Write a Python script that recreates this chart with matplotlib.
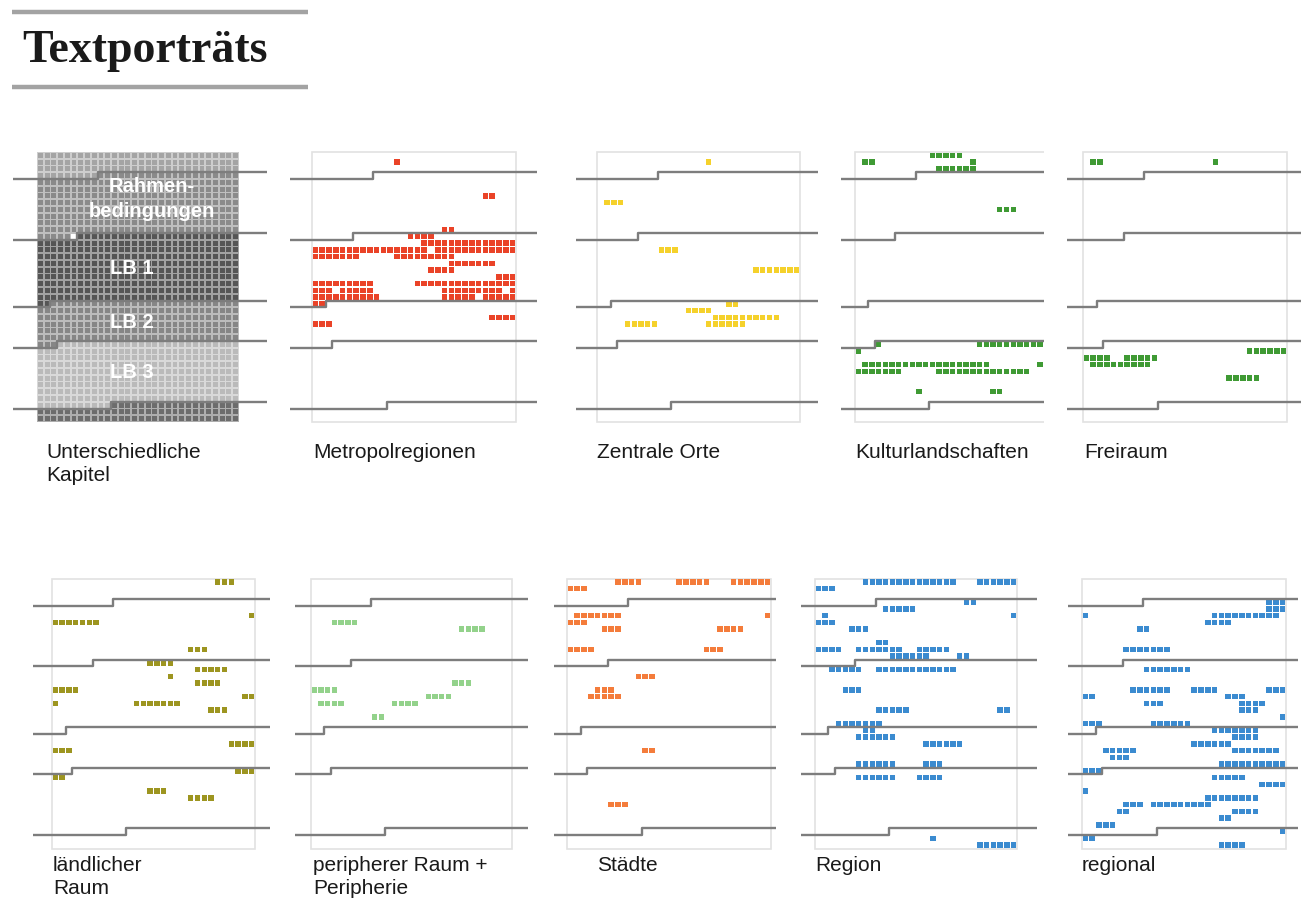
import numpy as np
import matplotlib.pyplot as plt
from matplotlib.patches import Rectangle
from matplotlib.collections import PatchCollection
from matplotlib.colors import to_rgb

plt.rcParams['font.family'] = ['Liberation Sans', 'DejaVu Sans']

# text grid: 30 columns x 40 rows, one square per text unit
N_COLS, N_ROWS = 30, 40

# chapter boundaries: (row, column where the new chapter starts)
boundaries = [(3, 9), (12, 6), (22, 2), (28, 3), (37, 11)]
chapter_colors = ['#a4a4a4', '#8a8a8a', '#555555', '#868686', '#bababa', '#6c6c6c']
chapter_names = ['Rahmen-\nbedingungen', 'LB 1', 'LB 2', 'LB 3']
empty_cells = [(12, 5)]

# hits per term: (row, first column, number of squares)
metropolregionen = [(1, 12, 1), (6, 25, 2), (11, 19, 2), (12, 14, 4), (13, 16, 14),
                    (14, 0, 17), (14, 18, 12), (15, 0, 7), (15, 12, 9), (16, 20, 7),
                    (17, 17, 4), (18, 27, 3), (19, 0, 9), (19, 15, 15), (20, 0, 3),
                    (20, 4, 5), (20, 19, 9), (20, 29, 1), (21, 0, 10), (21, 19, 5),
                    (21, 25, 5), (22, 0, 2), (24, 26, 4), (25, 0, 3)]
zentrale_orte = [(1, 16, 1), (7, 1, 3), (14, 9, 3), (17, 23, 7), (22, 19, 2),
                 (23, 13, 4), (24, 17, 10), (25, 4, 5), (25, 16, 6)]
kulturlandschaften = [(0, 11, 5), (1, 1, 2), (1, 17, 1), (2, 12, 6), (8, 21, 3),
                      (28, 3, 1), (28, 18, 12), (29, 0, 1), (31, 1, 19), (31, 27, 1),
                      (32, 0, 7), (32, 12, 14), (35, 9, 1), (35, 20, 2)]
freiraum = [(1, 1, 2), (1, 19, 1), (29, 24, 6), (30, 0, 4), (30, 6, 5),
            (31, 1, 9), (33, 21, 5)]
laendlicher_raum = [(0, 24, 3), (5, 29, 1), (6, 0, 7), (10, 20, 3), (12, 14, 4),
                    (13, 21, 5), (14, 17, 1), (15, 21, 4), (16, 0, 4), (17, 28, 2),
                    (18, 0, 1), (18, 12, 7), (19, 23, 3), (24, 26, 4), (25, 0, 3),
                    (28, 27, 3), (29, 0, 2), (31, 14, 3), (32, 20, 4)]
peripherie = [(6, 3, 4), (7, 22, 4), (15, 21, 3), (16, 0, 4), (17, 17, 4),
              (18, 1, 4), (18, 12, 4), (20, 9, 2)]
staedte = [(0, 7, 4), (0, 16, 5), (0, 24, 6), (1, 0, 3), (5, 1, 7), (5, 29, 1),
           (6, 0, 3), (7, 5, 3), (7, 22, 4), (10, 0, 4), (10, 20, 3), (14, 10, 3),
           (16, 4, 3), (17, 3, 5), (25, 11, 2), (33, 6, 3)]
region = [(0, 7, 14), (0, 24, 6), (1, 0, 3), (3, 22, 2), (4, 10, 5), (5, 1, 1),
          (5, 29, 1), (6, 0, 3), (7, 5, 3), (9, 9, 2), (10, 0, 4), (10, 6, 7),
          (10, 15, 5), (11, 11, 6), (11, 21, 2), (13, 2, 5), (13, 9, 12), (16, 4, 3),
          (19, 9, 5), (19, 27, 2), (21, 3, 7), (22, 7, 2), (23, 6, 6), (24, 16, 6),
          (27, 6, 6), (27, 16, 3), (29, 6, 6), (29, 15, 4), (38, 17, 1), (39, 24, 6)]
regional = [(3, 27, 3), (4, 27, 3), (5, 0, 1), (5, 19, 10), (6, 18, 4), (7, 8, 2),
            (10, 6, 7), (13, 9, 7), (16, 7, 6), (16, 16, 4), (16, 27, 3), (17, 0, 2),
            (17, 21, 3), (18, 9, 3), (18, 23, 4), (19, 23, 3), (20, 29, 1), (21, 0, 3),
            (21, 10, 6), (22, 19, 7), (23, 22, 4), (24, 16, 6), (25, 3, 5), (25, 22, 7),
            (26, 4, 3), (27, 20, 10), (28, 0, 3), (29, 19, 5), (30, 26, 4), (31, 0, 1),
            (32, 18, 8), (33, 6, 3), (33, 10, 9), (34, 5, 2), (34, 22, 4), (35, 20, 2),
            (36, 2, 3), (37, 29, 1), (38, 0, 2), (39, 20, 4)]

labels = ['Unterschiedliche\nKapitel', 'Metropolregionen', 'Zentrale Orte',
          'Kulturlandschaften', 'Freiraum', 'ländlicher\nRaum',
          'peripherer Raum +\nPeripherie', 'Städte', 'Region', 'regional']
term_runs = [None, metropolregionen, zentrale_orte, kulturlandschaften, freiraum,
             laendlicher_raum, peripherie, staedte, region, regional]
term_colors = [None, '#ea4328', '#f5d12b', '#3f9a34', '#3f9a34', '#9d9520',
               '#93d28b', '#f47c3b', '#3b8bd0', '#3b8bd0']

# layout in pixels: box left, box top, box width, line start, line end, label x, label top
W, H = 1301, 902
layout = [(37, 152, 202, 13, 267, 46, 443), (312, 152, 204, 290, 537, 313, 443),
          (597, 152, 203, 576, 818, 597, 443), (855, 152, 202, 841, 1044, 855, 443),
          (1083, 152, 204, 1067, 1301, 1084, 443),
          (52, 578.5, 203, 33, 270, 53, 856), (311, 578.5, 201, 295, 528, 313, 856),
          (567, 578.5, 204, 554, 776, 597, 856), (815, 578.5, 202, 801, 1037, 815, 856),
          (1082, 578.5, 204, 1068, 1298, 1082, 856)]
CH = 6.75

fig = plt.figure(figsize=(W / 100, H / 100), dpi=100)
bg = fig.add_axes([0, 0, 1, 1])
bg.set_xlim(0, W)
bg.set_ylim(H, 0)
bg.axis('off')
bg.plot([12, 308], [12, 12], color='#a3a3a3', lw=3.2, solid_capstyle='butt')
bg.plot([12, 308], [87, 87], color='#a3a3a3', lw=3.2, solid_capstyle='butt')
bg.text(22, 62, 'Textporträts', family='Liberation Serif', weight='bold',
        fontsize=33, va='baseline', color='#1a1a1a')


def squares(cells, size=0.8, **kw):
    g = (1 - size) / 2
    return PatchCollection([Rectangle((c + g, r + g), size, size) for r, c in cells],
                           edgecolor='none', **kw)


def lighter(col, f=0.45):
    rgb = np.array(to_rgb(col))
    return tuple(rgb + (1 - rgb) * f)


starts = [r * N_COLS + c for r, c in boundaries]

for k, (bl, bt, bw, ll, lr, tx, ty) in enumerate(layout):
    cw = bw / N_COLS
    top_px, bot_px = bt - 3, bt + N_ROWS * CH + 3
    ax = fig.add_axes([ll / W, 1 - bot_px / H, (lr - ll) / W, (bot_px - top_px) / H])
    x0, x1 = (ll - bl) / cw, (lr - bl) / cw
    ax.set_xlim(x0, x1)
    ax.set_ylim((bot_px - bt) / CH, (top_px - bt) / CH)
    ax.axis('off')

    if k == 0:
        rows, cols = np.divmod(np.arange(N_ROWS * N_COLS), N_COLS)
        chap = np.searchsorted(starts, rows * N_COLS + cols, side='right')
        for s, col in enumerate(chapter_colors):
            m = chap == s
            cells = list(zip(rows[m], cols[m]))
            ax.add_collection(squares(cells, size=1.0, facecolor=lighter(col)))
            ax.add_collection(squares(cells, size=0.72, facecolor=col))
        ax.add_collection(squares(empty_cells, size=0.8, facecolor='white'))
    else:
        cells = [(r, c + i) for r, c, n in term_runs[k] for i in range(n)]
        ax.add_patch(Rectangle((0, 0), N_COLS, N_ROWS, fill=False,
                               edgecolor='#e2e2e2', lw=1.2))
        ax.add_collection(squares(cells, facecolor=term_colors[k]))

    for r, c in boundaries:
        ax.plot([x0, c, c, x1], [r + 1, r + 1, r, r], color='#7d7d7d', lw=1.7)

    if k == 0:
        ax.text(17.0, 7.0, chapter_names[0], color='white', weight='bold',
                fontsize=14.5, ha='center', va='center', linespacing=1.4)
        for name, y in zip(chapter_names[1:], [17.2, 25.2, 32.6]):
            ax.text(14.1, y, name, color='white', weight='bold', fontsize=14.5,
                    ha='center', va='center')

    bg.text(tx, ty, labels[k], fontsize=15, va='top', ha='left', color='#1a1a1a',
            linespacing=1.25)

fig.savefig('out.png', dpi=100)
